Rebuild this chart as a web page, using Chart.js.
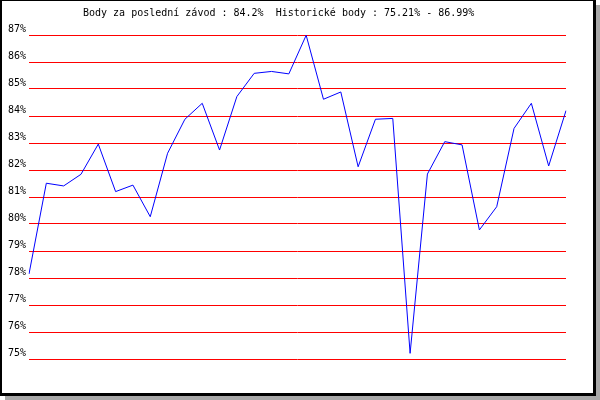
<!DOCTYPE html>
<html>
<head>
<meta charset="utf-8">
<script src="https://cdn.jsdelivr.net/npm/chart.js@4/dist/chart.umd.min.js"></script>
<style>
    html, body { margin: 0; padding: 0; background: #fff; }
    canvas { display: block; }
</style>
</head>
<body>
<canvas id="chart" width="600" height="400"></canvas>
<script>
// Chart data
const TITLE = 'Body za poslední závod : 84.2%  Historické body : 75.21% - 86.99%';
const RACES = ['1', '2', '3', '4', '5', '6', '7', '8', '9', '10', '11', '12', '13', '14', '15', '16',
    '17', '18', '19', '20', '21', '22', '23', '24', '25', '26', '27', '28', '29', '30', '31', '32'];
const POINTS = [78.15, 81.51, 81.41, 81.84, 82.96, 81.20, 81.44, 80.27, 82.62, 83.88, 84.47, 82.74,
    84.72, 85.58, 85.65, 85.56, 86.99, 84.62, 84.89, 82.12, 83.88, 83.91, 75.21, 81.85,
    83.05, 82.93, 79.78, 80.64, 83.54, 84.47, 82.15, 84.20];
const Y_MIN = 75;
const Y_MAX = 87;

const FONT = { family: '"DejaVu Sans Mono", monospace', size: 10 };

// frame with grey shadow + title text
const framePlugin = {
    id: 'frame',
    beforeDraw(chart) {
        const ctx = chart.ctx;
        ctx.save();
        ctx.fillStyle = '#a8a8a8';
        ctx.fillRect(5, 5, 595, 395);
        ctx.fillStyle = '#000';
        ctx.fillRect(0, 0, 596, 396);
        ctx.fillStyle = '#fff';
        ctx.fillRect(2, 1, 591, 392);
        ctx.restore();
    },
    afterDraw(chart) {
        const ctx = chart.ctx;
        ctx.save();
        ctx.fillStyle = '#000';
        ctx.font = '10px "DejaVu Sans Mono", monospace';
        ctx.textBaseline = 'middle';
        ctx.textAlign = 'left';
        ctx.fillText(TITLE, 83, 13);
        ctx.restore();
    }
};

new Chart(document.getElementById('chart'), {
    type: 'line',
    data: {
        labels: RACES,
        datasets: [{
            data: POINTS,
            borderColor: '#0000ff',
            borderWidth: 1,
            pointRadius: 0,
            tension: 0,
            fill: false
        }]
    },
    options: {
        responsive: false,
        animation: false,
        layout: {
            padding: { left: 0, right: 34, top: 35, bottom: 41 }
        },
        plugins: {
            legend: { display: false },
            tooltip: { enabled: false }
        },
        scales: {
            x: {
                display: false,
                offset: false
            },
            y: {
                min: Y_MIN,
                max: Y_MAX,
                border: { display: false },
                grid: {
                    color: '#ff0000',
                    lineWidth: 1,
                    drawTicks: false
                },
                ticks: {
                    stepSize: 1,
                    padding: 3,
                    labelOffset: -6,
                    color: '#000',
                    font: FONT,
                    callback: v => v + '%'
                },
                afterFit(scale) {
                    scale.width = 29;
                }
            }
        }
    },
    plugins: [framePlugin]
});
</script>
</body>
</html>
